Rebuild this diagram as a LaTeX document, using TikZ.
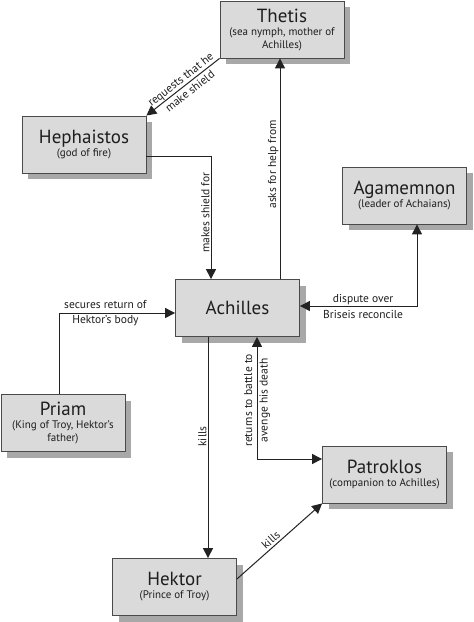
\documentclass[tikz,border=0pt]{standalone}
\usepackage{fontspec}
\setmainfont{PT Sans}
\usetikzlibrary{arrows.meta,shadows,calc}
\definecolor{boxfill}{HTML}{DADADA}
\definecolor{shadowc}{HTML}{A8A8A8}
\definecolor{linec}{HTML}{222222}
\definecolor{borderc}{HTML}{4A4A4A}
\definecolor{textc}{HTML}{1E1E1E}
\newcommand{\boxtitle}{\fontsize{19}{21}\selectfont}
\newcommand{\boxsub}{\fontsize{11}{13}\selectfont}
\newcommand{\lblfont}{\fontsize{11.5}{15}\selectfont}
\begin{document}
\begin{tikzpicture}[x=1pt,y=-1pt,
  box/.style={draw=borderc, line width=0.8pt, fill=boxfill,
    minimum width=124pt, minimum height=57pt, align=center, inner sep=2pt,
    font=\boxsub, text=textc,
    general shadow={fill=shadowc, shadow xshift=6pt, shadow yshift=-6pt}},
  conn/.style={draw=linec, line width=1pt},
  arr/.style={conn, -{Triangle[length=10pt,width=10pt]}},
  darr/.style={conn, {Triangle[length=10pt,width=10pt]}-{Triangle[length=10pt,width=10pt]}},
  lbl/.style={font=\lblfont, text=textc, align=center, inner sep=1pt}]
\useasboundingbox (0,0) rectangle (474,622);

\node[box] (thetis) at (282,29.5) {{\boxtitle Thetis}\\(sea nymph, mother of\\Achilles)};
\node[box] (heph) at (84,144.5) {{\boxtitle Hephaistos}\\(god of fire)};
\node[box] (agam) at (404.5,195.5) {{\boxtitle Agamemnon}\\(leader of Achaians)};
\node[box] (ach) at (237.5,308) {\boxtitle Achilles};
\node[box] (priam) at (63,423) {{\boxtitle Priam}\\(King of Troy, Hektor's\\father)};
\node[box] (patro) at (384.5,474.5) {{\boxtitle Patroklos}\\(companion to Achilles)};
\node[box] (hektor) at (174.5,587) {{\boxtitle Hektor}\\(Prince of Troy)};

\draw[arr] (thetis.south west) -- node[lbl, sloped, pos=0.47]{requests that he\\make shield} (heph.north east);
\draw[arr] ($(heph.east)+(0,11.5)$) -| node[lbl, rotate=90, anchor=south, pos=0.73]{makes shield for} ($(ach.north)+(-26.5,0)$);
\draw[arr] ($(ach.north)+(42.5,0)$) -- node[lbl, rotate=90, anchor=south, pos=0.52]{asks for help from} ($(thetis.south)+(-2,0)$);
\draw[darr] ($(agam.south)+(12.5,0)$) |- node[lbl, pos=0.73]{dispute over\\[1pt]Briseis reconcile} ($(ach.east)+(0,-2)$);
\draw[arr] ($(priam.north)+(-4,0)$) |- node[lbl, pos=0.70]{secures return of\\Hektor's body} ($(ach.west)+(0,5)$);
\draw[arr] ($(ach.south)+(-29.5,0)$) -- node[lbl, rotate=90, anchor=south, pos=0.45]{kills} ($(hektor.north)+(33.5,0)$);
\draw[darr] ($(patro.west)+(0,-15.5)$) -| node[lbl, rotate=90, pos=0.74]{returns to battle to\\[0.5pt]avenge his death} ($(ach.south)+(19.5,0)$);
\draw[arr] ($(hektor.east)+(0,-8)$) -- node[lbl, sloped, above, inner sep=2pt, pos=0.45]{kills} (patro.south west);
\end{tikzpicture}
\end{document}
